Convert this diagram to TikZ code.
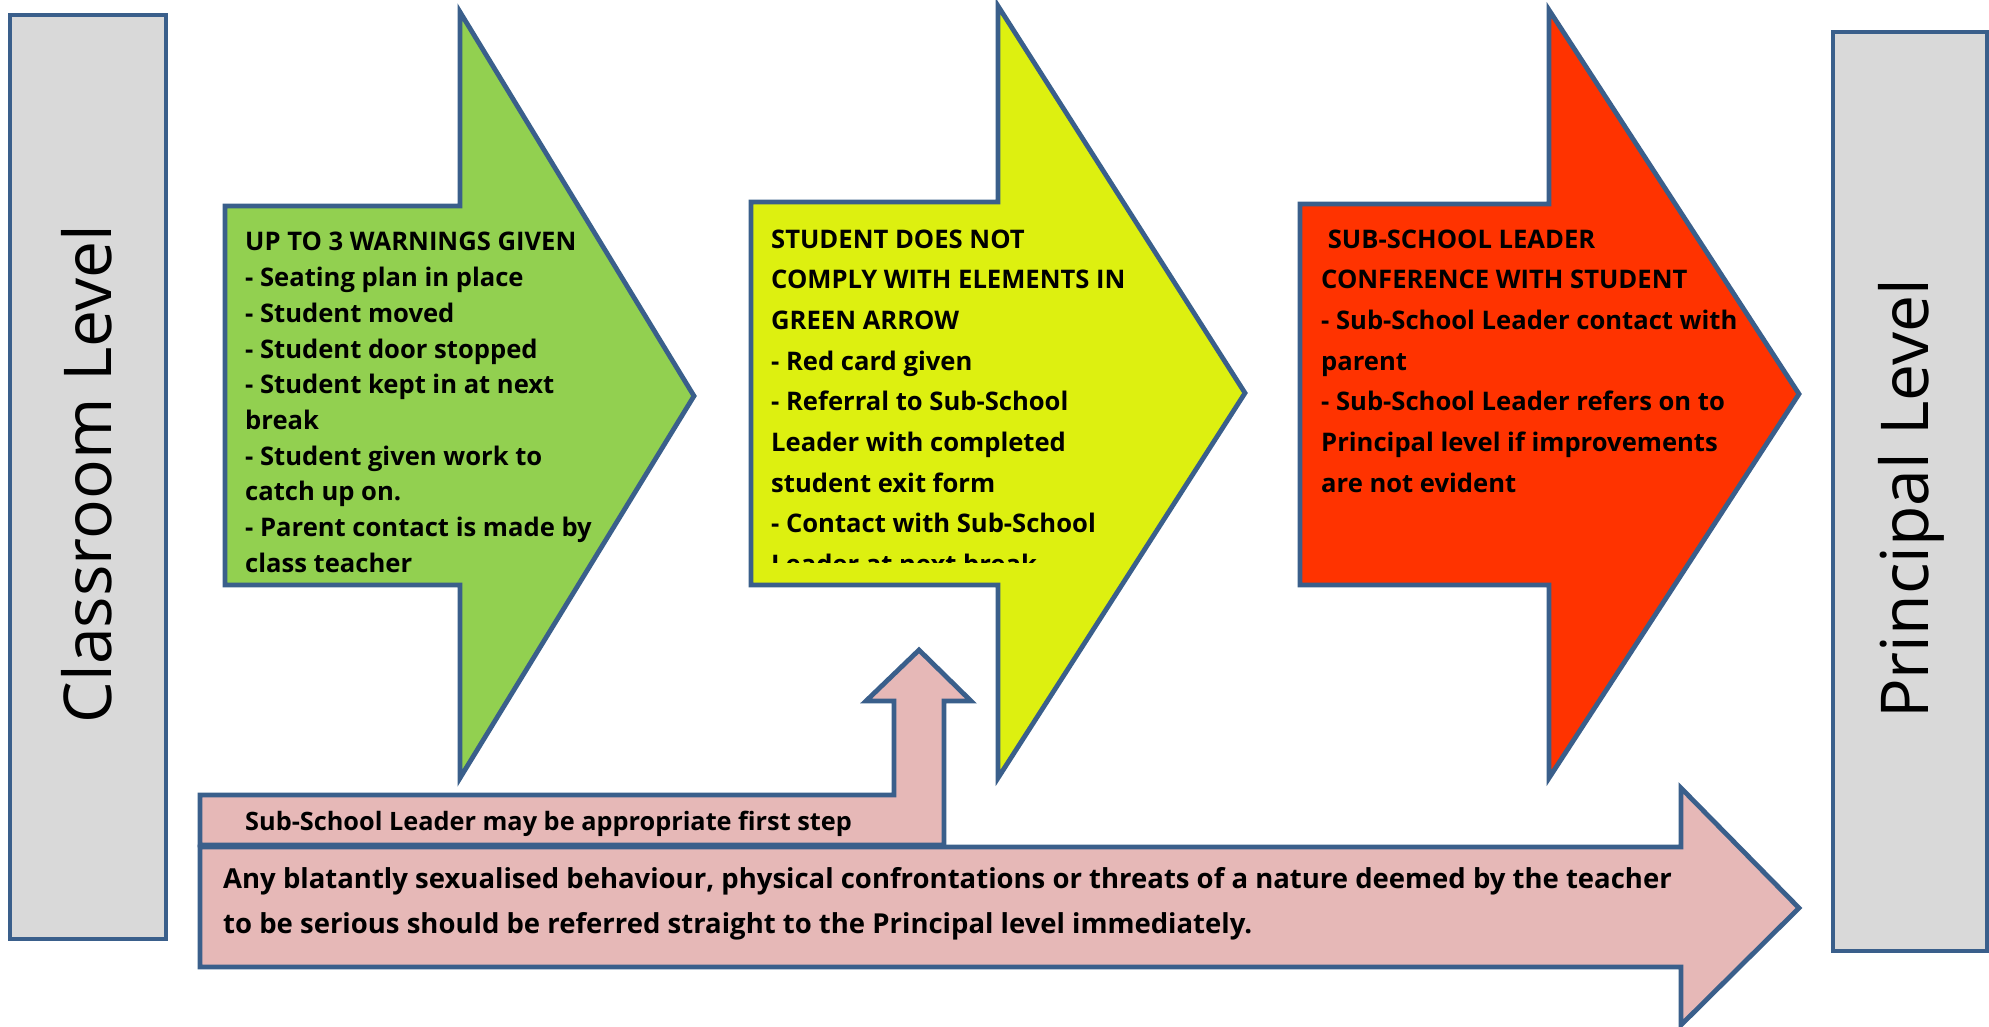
\documentclass[tikz,border=0pt]{standalone}
\usepackage{fontspec}
\setmainfont{Open Sans}
\definecolor{edge}{HTML}{3A5F8B}
\definecolor{greyfill}{HTML}{D9D9D9}
\definecolor{greenfill}{HTML}{92D050}
\definecolor{yellowfill}{HTML}{DDF010}
\definecolor{redfill}{HTML}{FF3300}
\definecolor{pinkfill}{HTML}{E6B8B7}
\begin{document}
\begin{tikzpicture}[x=1pt,y=-1pt,
  outline/.style={draw=edge, line width=4.8pt, line join=miter},
  levelbox/.style={outline, fill=greyfill},
  leveltext/.style={rotate=90, font=\fontsize{66}{78}\selectfont, inner sep=0},
  bodytext/.style={anchor=base west, inner sep=0, font=\bfseries\fontsize{25.6}{30}\selectfont}]
\useasboundingbox (0,0) rectangle (1989,1027);
% level boxes
\draw[levelbox] (10,15) rectangle (166,939);
\node[leveltext] (classroom) at (87,474) {Classroom Level};
\draw[levelbox] (1833,32) rectangle (1987,951);
\node[leveltext] (principal) at (1911,499) {Principal Level};
% green arrow
\draw[outline, fill=greenfill] (225,206) -- (460,206) -- (460,12) -- (694,396) -- (460,778) -- (460,585) -- (225,585) -- cycle;
\node[bodytext] (greentext) at (245,251) {\parbox[t]{500pt}{\raggedright\baselineskip=35.7pt
UP TO 3 WARNINGS GIVEN\\
- Seating plan in place\\
- Student moved\\
- Student door stopped\\
- Student kept in at next\\
break\\
- Student given work to\\
catch up on.\\
- Parent contact is made by\\
class teacher}};
% yellow arrow
\draw[outline, fill=yellowfill] (751,202) -- (998,202) -- (998,6) -- (1245,393) -- (998,778) -- (998,585) -- (751,585) -- cycle;
\begin{scope}
\clip (751,205) rectangle (1245,562);
\node[bodytext] (yellowtext) at (771,248) {\parbox[t]{500pt}{\raggedright\baselineskip=40.7pt
STUDENT DOES NOT\\
COMPLY WITH ELEMENTS IN\\
GREEN ARROW\\
- Red card given\\
- Referral to Sub-School\\
Leader with completed\\
student exit form\\
- Contact with Sub-School\\
Leader at next break}};
\end{scope}
% red arrow
\draw[outline, fill=redfill] (1300,204) -- (1549,204) -- (1549,10) -- (1799,394) -- (1549,778) -- (1549,585) -- (1300,585) -- cycle;
\node[bodytext] (redtext) at (1321,248) {\parbox[t]{500pt}{\raggedright\baselineskip=40.7pt
\ SUB-SCHOOL LEADER\\
CONFERENCE WITH STUDENT\\
- Sub-School Leader contact with\\
parent\\
- Sub-School Leader refers on to\\
Principal level if improvements\\
are not evident}};
% pink up arrow
\draw[outline, fill=pinkfill] (200,795) -- (894,795) -- (894,701) -- (866,701) -- (919,650) -- (971,701) -- (944,701) -- (944,845) -- (200,845) -- cycle;
\node[bodytext, font=\bfseries\fontsize{25.3}{30}\selectfont] (firststep) at (245,830) {Sub-School Leader may be appropriate first step};
% big pink arrow
\draw[outline, fill=pinkfill] (200,847) -- (1681,847) -- (1681,788) -- (1799,908) -- (1681,1025) -- (1681,967) -- (200,967) -- cycle;
\node[bodytext, font=\bfseries\fontsize{27.5}{30}\selectfont] (serious) at (223,888) {\parbox[t]{1500pt}{\raggedright\baselineskip=45pt
Any blatantly sexualised behaviour, physical confrontations or threats of a nature deemed by the teacher\\
to be serious should be referred straight to the Principal level immediately.}};
\end{tikzpicture}
\end{document}
